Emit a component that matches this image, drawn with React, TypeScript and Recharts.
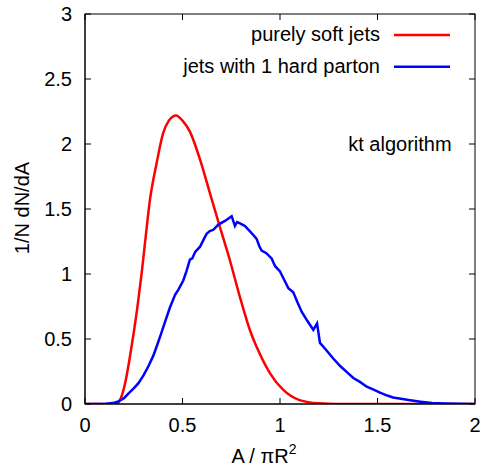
import React from 'react';
import { LineChart, Line, XAxis, YAxis, Legend, ReferenceDot } from 'recharts';

const FONT = '"Liberation Sans", Arial, Helvetica, sans-serif';

const xTicks = [0, 0.5, 1, 1.5, 2];
const yTicks = [0, 0.5, 1, 1.5, 2, 2.5, 3];
const xMax = 2;
const yMax = 3;

// purely soft jets
const softX = [0, 0.1, 0.15, 0.17, 0.19, 0.21, 0.23, 0.25, 0.27, 0.29, 0.31, 0.333, 0.367, 0.4, 0.43, 0.467, 0.5, 0.538, 0.59, 0.641, 0.692, 0.744, 0.795, 0.85, 0.88, 0.949, 1.017, 1.1, 1.2, 1.3, 1.5, 2.0];
const softY = [0, 0, 0, 0.01, 0.07, 0.19, 0.36, 0.55, 0.76, 1.0, 1.27, 1.57, 1.85, 2.08, 2.18, 2.22, 2.18, 2.095, 1.88, 1.62, 1.36, 1.1, 0.82, 0.55, 0.44, 0.236, 0.108, 0.03, 0.005, 0, 0, 0];

// jets with 1 hard parton
const hardX = [0, 0.1, 0.15, 0.171, 0.2, 0.222, 0.25, 0.274, 0.3, 0.325, 0.35, 0.367, 0.39, 0.41, 0.435, 0.462, 0.479, 0.504, 0.52, 0.538, 0.55, 0.565, 0.59, 0.61, 0.624, 0.64, 0.658, 0.684, 0.72, 0.752, 0.769, 0.78, 0.795, 0.82, 0.845, 0.863, 0.88, 0.895, 0.906, 0.93, 0.957, 0.975, 1.0, 1.02, 1.043, 1.068, 1.09, 1.111, 1.14, 1.171, 1.19, 1.205, 1.24, 1.273, 1.31, 1.35, 1.376, 1.41, 1.445, 1.48, 1.513, 1.55, 1.58, 1.62, 1.66, 1.72, 1.78, 1.85, 1.92, 2.0];
const hardY = [0, 0, 0.01, 0.02, 0.045, 0.08, 0.12, 0.16, 0.22, 0.29, 0.37, 0.44, 0.54, 0.63, 0.74, 0.84, 0.88, 0.95, 1.02, 1.11, 1.12, 1.17, 1.21, 1.27, 1.31, 1.33, 1.34, 1.38, 1.41, 1.445, 1.37, 1.4, 1.39, 1.37, 1.33, 1.3, 1.27, 1.21, 1.18, 1.16, 1.12, 1.06, 1.02, 0.96, 0.89, 0.86, 0.78, 0.71, 0.64, 0.57, 0.62, 0.47, 0.41, 0.35, 0.29, 0.236, 0.2, 0.17, 0.133, 0.11, 0.087, 0.065, 0.05, 0.04, 0.03, 0.018, 0.008, 0.004, 0.002, 0];

const softData = softX.map((x, i) => ({ x, y: softY[i] }));
const hardData = hardX.map((x, i) => ({ x, y: hardY[i] }));

const series = [
  { name: 'purely soft jets', color: '#ff0000' },
  { name: 'jets with 1 hard parton', color: '#0000ff' },
];

// plot box (matches chart margins + axis sizes below)
const PLOT_L = 85;
const PLOT_T = 14;
const PLOT_W = 390;
const PLOT_H = 390;
const TICK_LEN = 6;

const BottomTick = (props: any) => {
  const { x, y, payload } = props;
  return (
    <text x={x} y={y + 28} textAnchor="middle" fontFamily={FONT} fontSize={20} fill="#000">
      {String(payload.value)}
    </text>
  );
};

const LeftTick = (props: any) => {
  const { x, y, payload } = props;
  return (
    <text x={x - 13} y={y + 7} textAnchor="end" fontFamily={FONT} fontSize={20} fill="#000">
      {String(payload.value)}
    </text>
  );
};

const sx = (v: number) => PLOT_L + (v / xMax) * PLOT_W;
const sy = (v: number) => PLOT_T + PLOT_H - (v / yMax) * PLOT_H;

// legend content also draws the gnuplot-style frame with inward mirrored ticks
const LegendContent = () => (
  <svg width={485} height={467} style={{ display: 'block', pointerEvents: 'none' }}>
    <rect x={PLOT_L} y={PLOT_T} width={PLOT_W} height={PLOT_H} fill="none" stroke="#000" strokeWidth={1} />
    {xTicks.map((t) => (
      <g key={'xt' + t}>
        <line x1={sx(t)} x2={sx(t)} y1={PLOT_T + PLOT_H} y2={PLOT_T + PLOT_H - TICK_LEN} stroke="#000" strokeWidth={1} />
        <line x1={sx(t)} x2={sx(t)} y1={PLOT_T} y2={PLOT_T + TICK_LEN} stroke="#000" strokeWidth={1} />
      </g>
    ))}
    {yTicks.map((t) => (
      <g key={'yt' + t}>
        <line x1={PLOT_L} x2={PLOT_L + TICK_LEN} y1={sy(t)} y2={sy(t)} stroke="#000" strokeWidth={1} />
        <line x1={PLOT_L + PLOT_W} x2={PLOT_L + PLOT_W - TICK_LEN} y1={sy(t)} y2={sy(t)} stroke="#000" strokeWidth={1} />
      </g>
    ))}
    {series.map((s, i) => (
      <g key={s.name}>
        <text x={380} y={41 + i * 31.5} textAnchor="end" fontFamily={FONT} fontSize={20} fill="#000">
          {s.name}
        </text>
        <line x1={394} x2={450} y1={35 + i * 31.7} y2={35 + i * 31.7} stroke={s.color} strokeWidth={2.5} />
      </g>
    ))}
  </svg>
);

const XLabel = (props: any) => {
  const vb = props.viewBox || { x: 85, y: 404, width: 390 };
  const cx = vb.x + vb.width / 2 - 16;
  return (
    <text x={cx} y={vb.y + 59} textAnchor="middle" fontFamily={FONT} fontSize={20} fill="#000">
      A / πR
      <tspan dy={-9} fontSize={14}>2</tspan>
    </text>
  );
};

const YLabel = () => {
  const cx = 29;
  const cy = 208;
  return (
    <text
      x={cx}
      y={cy}
      transform={`rotate(-90, ${cx}, ${cy})`}
      textAnchor="middle"
      fontFamily={FONT}
      fontSize={20}
      fill="#000"
    >
      1/N dN/dA
    </text>
  );
};

const NoteLabel = (props: any) => {
  const { viewBox } = props;
  const x = viewBox ? viewBox.x : 348;
  const y = viewBox ? viewBox.y : 152;
  return (
    <text x={x} y={y} textAnchor="start" fontFamily={FONT} fontSize={20} fill="#000">
      kt algorithm
    </text>
  );
};

export default function App() {
  return (
    <div style={{ position: 'absolute', left: 0, top: 0, width: 485, height: 467, background: '#fff' }}>
      <LineChart width={485} height={467} margin={{ top: 14, right: 10, bottom: 0, left: 0 }}>
        <XAxis
          dataKey="x"
          type="number"
          domain={[0, xMax]}
          ticks={xTicks}
          allowDataOverflow
          height={63}
          tickSize={0}
          tickMargin={0}
          tickLine={false}
          axisLine={{ stroke: '#000', strokeWidth: 1 }}
          tick={<BottomTick />}
          interval={0}
          label={<XLabel />}
        />
        <YAxis
          type="number"
          domain={[0, yMax]}
          ticks={yTicks}
          allowDataOverflow
          width={85}
          tickSize={0}
          tickMargin={0}
          tickLine={false}
          axisLine={{ stroke: '#000', strokeWidth: 1 }}
          tick={<LeftTick />}
          interval={0}
          label={<YLabel />}
        />
        <Line
          data={softData}
          dataKey="y"
          name={series[0].name}
          type="monotone"
          stroke={series[0].color}
          strokeWidth={2.5}
          dot={false}
          isAnimationActive={false}
        />
        <Line
          data={hardData}
          dataKey="y"
          name={series[1].name}
          type="linear"
          stroke={series[1].color}
          strokeWidth={2.5}
          dot={false}
          isAnimationActive={false}
        />
        <ReferenceDot x={1.35} y={1.95} r={0} fill="none" stroke="none" label={<NoteLabel />} ifOverflow="visible" />
        <Legend
          layout="vertical"
          align="center"
          verticalAlign="middle"
          content={<LegendContent />}
          wrapperStyle={{ position: 'absolute', left: 0, top: 0, width: 485, height: 467, pointerEvents: 'none' }}
        />
      </LineChart>
    </div>
  );
}
